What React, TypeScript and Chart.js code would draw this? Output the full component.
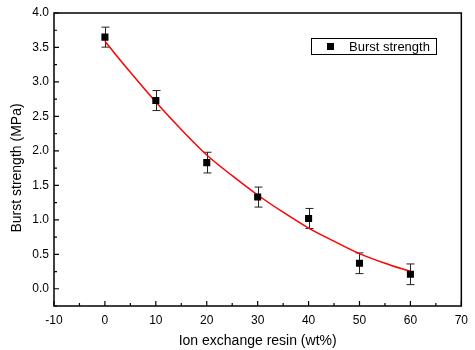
import React, { useEffect, useRef } from "react";
import { Chart, registerables } from "chart.js";

Chart.register(...registerables);

const resinContent = [0, 10, 20, 30, 40, 50, 60];
const burstStrength = [3.65, 2.73, 1.83, 1.33, 1.02, 0.37, 0.21];
const burstError = [0.145, 0.145, 0.15, 0.145, 0.145, 0.15, 0.15];

const fitX = [0, 5, 10, 15, 20, 25, 30, 35, 40, 45, 50, 55, 60];
const fitY = [3.59, 3.14, 2.71, 2.31, 1.94, 1.64, 1.36, 1.11, 0.88, 0.69, 0.51, 0.37, 0.25];

const xMajorTicks = [-10, 0, 10, 20, 30, 40, 50, 60, 70];
const xMinorTicks = [-5, 5, 15, 25, 35, 45, 55, 65];
const yMajorTicks = [0, 0.5, 1.0, 1.5, 2.0, 2.5, 3.0, 3.5, 4.0];
const yMinorTicks = [-0.25, 0.25, 0.75, 1.25, 1.75, 2.25, 2.75, 3.25, 3.75];

const xTitle = "Ion exchange resin (wt%)";
const yTitle = "Burst strength (MPa)";
const legendLabel = "Burst strength";

const FONT = "'Liberation Sans', Arial, sans-serif";

const decorPlugin = {
  id: "decor",
  beforeDatasetsDraw(chart: any) {
    const ctx = chart.ctx;
    const xs = chart.scales.x;
    const ys = chart.scales.y;
    ctx.save();
    ctx.strokeStyle = "#222";
    ctx.lineWidth = 1;
    resinContent.forEach((xv, i) => {
      const px = Math.round(xs.getPixelForValue(xv)) + 0.5;
      const top = ys.getPixelForValue(burstStrength[i] + burstError[i]);
      const bot = ys.getPixelForValue(burstStrength[i] - burstError[i]);
      ctx.beginPath();
      ctx.moveTo(px, top);
      ctx.lineTo(px, bot);
      ctx.moveTo(px - 4, top);
      ctx.lineTo(px + 4, top);
      ctx.moveTo(px - 4, bot);
      ctx.lineTo(px + 4, bot);
      ctx.stroke();
    });
    ctx.restore();
  },
  afterDraw(chart: any) {
    const ctx = chart.ctx;
    const { left, right, top, bottom } = chart.chartArea;
    const xs = chart.scales.x;
    const ys = chart.scales.y;
    ctx.save();
    ctx.strokeStyle = "#000";
    ctx.lineWidth = 1.5;
    ctx.strokeRect(left, top, right - left, bottom - top);

    ctx.lineWidth = 1.2;
    ctx.beginPath();
    xMajorTicks.forEach((v) => {
      const p = xs.getPixelForValue(v);
      ctx.moveTo(p, bottom);
      ctx.lineTo(p, bottom - 5);
    });
    xMinorTicks.forEach((v) => {
      const p = xs.getPixelForValue(v);
      ctx.moveTo(p, bottom);
      ctx.lineTo(p, bottom - 3);
    });
    yMajorTicks.forEach((v) => {
      const p = ys.getPixelForValue(v);
      ctx.moveTo(left, p);
      ctx.lineTo(left + 5, p);
    });
    yMinorTicks.forEach((v) => {
      const p = ys.getPixelForValue(v);
      ctx.moveTo(left, p);
      ctx.lineTo(left + 3, p);
    });
    ctx.stroke();

    // legend
    ctx.lineWidth = 1;
    ctx.strokeRect(311.5, 38.5, 125, 16);
    ctx.fillStyle = "#000";
    ctx.fillRect(327, 43, 7, 7);
    ctx.font = `13px ${FONT}`;
    ctx.textAlign = "left";
    ctx.textBaseline = "middle";
    ctx.fillText(legendLabel, 349, 47);

    // titles
    ctx.font = `14px ${FONT}`;
    ctx.textAlign = "center";
    ctx.textBaseline = "alphabetic";
    ctx.fillText(xTitle, (left + right) / 2, 345);
    ctx.translate(21, 168);
    ctx.rotate(-Math.PI / 2);
    ctx.fillText(yTitle, 0, 0);
    ctx.restore();
  },
};

export default function App() {
  const ref = useRef<HTMLCanvasElement>(null);
  useEffect(() => {
    document.body.style.margin = "0";
    const chart = new Chart(ref.current as HTMLCanvasElement, {
      type: "scatter",
      data: {
        datasets: [
          {
            type: "line",
            label: "fit",
            data: fitX.map((x, i) => ({ x, y: fitY[i] })),
            borderColor: "#ff0000",
            borderWidth: 1.5,
            pointRadius: 0,
            showLine: true,
            cubicInterpolationMode: "monotone",
            fill: false,
            order: 2,
          } as any,
          {
            label: legendLabel,
            data: resinContent.map((x, i) => ({ x, y: burstStrength[i] })),
            pointStyle: "rect",
            pointRadius: 5,
            pointHoverRadius: 5,
            backgroundColor: "#000",
            borderColor: "#000",
            borderWidth: 0,
            order: 1,
          } as any,
        ],
      },
      options: {
        responsive: false,
        animation: false,
        events: [],
        layout: { padding: { top: 13, right: 7, left: 0, bottom: 0 } },
        plugins: { legend: { display: false }, tooltip: { enabled: false } },
        scales: {
          x: {
            type: "linear",
            min: -10,
            max: 70,
            grid: { display: false, drawTicks: false },
            border: { display: false },
            afterBuildTicks: (s: any) => {
              s.ticks = xMajorTicks.map((v) => ({ value: v }));
            },
            afterFit: (s: any) => {
              s.height = 44;
            },
            ticks: {
              padding: 7,
              color: "#000",
              font: { family: FONT, size: 12 },
              maxRotation: 0,
              callback: (v: any) => String(v),
            },
          },
          y: {
            type: "linear",
            min: -0.25,
            max: 4.0,
            grid: { display: false, drawTicks: false },
            border: { display: false },
            afterBuildTicks: (s: any) => {
              s.ticks = yMajorTicks.map((v) => ({ value: v }));
            },
            afterFit: (s: any) => {
              s.width = 54;
            },
            ticks: {
              padding: 5,
              color: "#000",
              font: { family: FONT, size: 12 },
              callback: (v: any) => Number(v).toFixed(1),
            },
          },
        },
      },
      plugins: [decorPlugin],
    });
    return () => chart.destroy();
  }, []);
  return (
    <div style={{ position: "fixed", left: 0, top: 0, width: 475, height: 350, background: "#fff" }}>
      <canvas ref={ref} width={475} height={350} />
    </div>
  );
}
